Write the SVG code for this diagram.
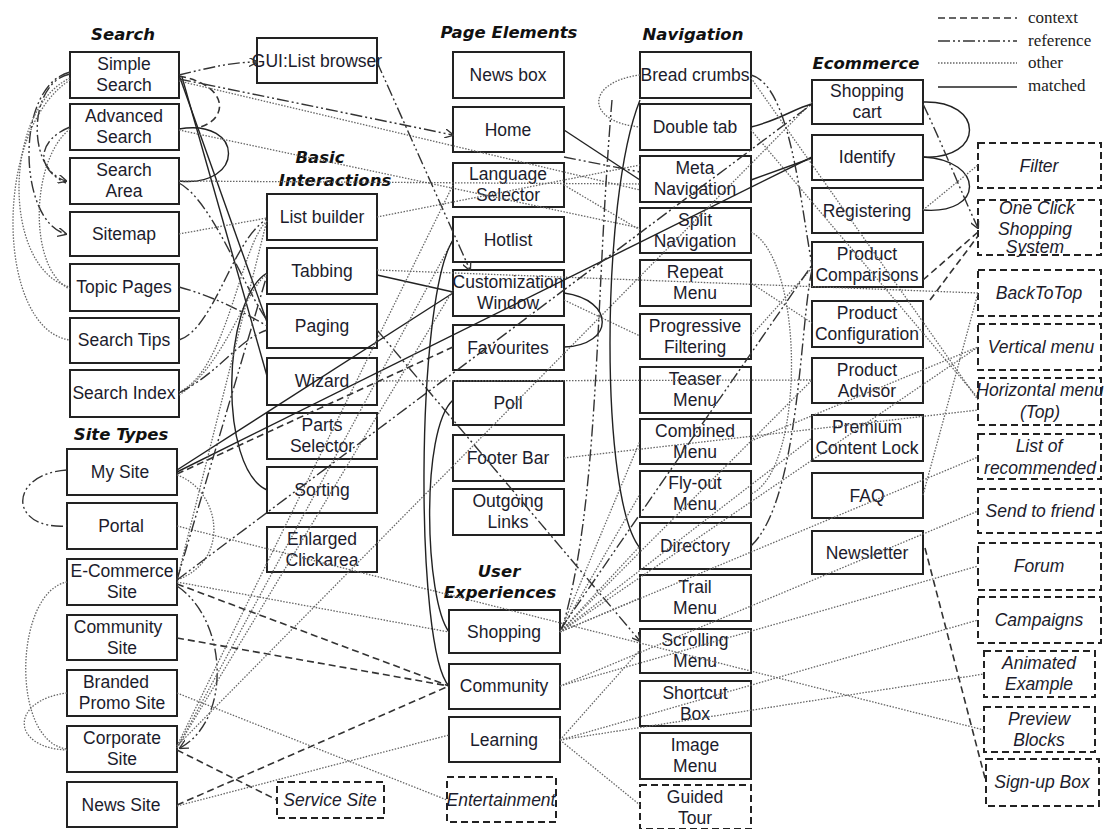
<svg xmlns="http://www.w3.org/2000/svg" width="1114" height="829" viewBox="0 0 1114 829">
<style>
.bx{fill:#fff;stroke:#222;stroke-width:2}
.dbx{fill:#fff;stroke:#222;stroke-width:2;stroke-dasharray:7 4}
.t{font-family:"Liberation Sans",Arial,sans-serif;font-size:17.5px;fill:#1c1c2c;text-anchor:middle}
.it{font-style:italic}
.h{font-family:"DejaVu Sans",Verdana,sans-serif;font-weight:bold;font-style:italic;font-size:16.5px;fill:#111;text-anchor:middle}
.lg{font-family:"Liberation Serif","Times New Roman",serif;font-size:17px;fill:#222}
.ctx{fill:none;stroke:#333;stroke-width:1.6;stroke-dasharray:7 4}
.ref{fill:none;stroke:#333;stroke-width:1.4;stroke-dasharray:12 3 2 3 2 3}
.oth{fill:none;stroke:#666;stroke-width:1.3;stroke-dasharray:1.5 1.5}
.mat{fill:none;stroke:#222;stroke-width:1.4}
</style>
<defs>
<marker id="ah" viewBox="0 0 10 10" refX="9" refY="5" markerWidth="9" markerHeight="9" markerUnits="userSpaceOnUse" orient="auto">
<path d="M0,0 L10,5 L0,10" fill="none" stroke="#333" stroke-width="1.5"/>
</marker>
</defs>
<rect width="1114" height="829" fill="#fff"/>

<!-- group titles -->
<g id="titles">
<text class="h" x="123" y="40">Search</text>
<text class="h" x="320" y="163">Basic</text>
<text class="h" x="335" y="186">Interactions</text>
<text class="h" x="509" y="38">Page Elements</text>
<text class="h" x="693" y="40">Navigation</text>
<text class="h" x="866" y="69">Ecommerce</text>
<text class="h" x="121" y="440">Site Types</text>
<text class="h" x="499" y="577">User</text>
<text class="h" x="500" y="598">Experiences</text>
</g>

<!-- legend -->
<g id="legend">
<line class="ctx" x1="938" y1="18" x2="1017" y2="18"/>
<line class="ref" x1="938" y1="41" x2="1017" y2="41"/>
<line class="oth" x1="938" y1="63" x2="1017" y2="63"/>
<line class="mat" x1="938" y1="87" x2="1017" y2="87"/>
<text class="lg" x="1028" y="23">context</text>
<text class="lg" x="1028" y="46">reference</text>
<text class="lg" x="1028" y="68">other</text>
<text class="lg" x="1028" y="91">matched</text>
</g>

<!-- Search -->
<g id="simple-search"><rect class="bx" x="70" y="52" width="109" height="46"/><text class="t" x="124" y="70">Simple</text><text class="t" x="124" y="91">Search</text></g>
<g id="advanced-search"><rect class="bx" x="70" y="104" width="109" height="46"/><text class="t" x="124" y="122">Advanced</text><text class="t" x="124" y="143">Search</text></g>
<g id="search-area"><rect class="bx" x="70" y="158" width="109" height="46"/><text class="t" x="124" y="176">Search</text><text class="t" x="124" y="197">Area</text></g>
<g id="sitemap"><rect class="bx" x="70" y="212" width="109" height="44"/><text class="t" x="124" y="240">Sitemap</text></g>
<g id="topic-pages"><rect class="bx" x="70" y="264" width="109" height="47"/><text class="t" x="124" y="293">Topic Pages</text></g>
<g id="search-tips"><rect class="bx" x="70" y="318" width="109" height="45"/><text class="t" x="124" y="346">Search Tips</text></g>
<g id="search-index"><rect class="bx" x="70" y="370" width="109" height="47"/><text class="t" x="124" y="399">Search Index</text></g>

<!-- Site Types -->
<g id="my-site"><rect class="bx" x="67" y="449" width="110" height="46"/><text class="t" x="120" y="478">My Site</text></g>
<g id="portal"><rect class="bx" x="67" y="503" width="110" height="46"/><text class="t" x="121" y="532">Portal</text></g>
<g id="ecommerce-site"><rect class="bx" x="67" y="559" width="110" height="46"/><text class="t" x="122" y="577">E-Commerce</text><text class="t" x="122" y="598">Site</text></g>
<g id="community-site"><rect class="bx" x="67" y="615" width="110" height="45"/><text class="t" x="118" y="633">Community</text><text class="t" x="122" y="654">Site</text></g>
<g id="branded-promo-site"><rect class="bx" x="67" y="670" width="110" height="46"/><text class="t" x="116" y="688">Branded</text><text class="t" x="122" y="709">Promo Site</text></g>
<g id="corporate-site"><rect class="bx" x="67" y="726" width="110" height="46"/><text class="t" x="122" y="744">Corporate</text><text class="t" x="122" y="765">Site</text></g>
<g id="news-site"><rect class="bx" x="67" y="782" width="110" height="45"/><text class="t" x="121" y="811">News Site</text></g>

<!-- GUI -->
<g id="gui-list-browser"><rect class="bx" x="257" y="38" width="120" height="45"/><text class="t" x="317" y="67">GUI:List browser</text></g>

<!-- Basic Interactions -->
<g id="list-builder"><rect class="bx" x="267" y="194" width="110" height="46"/><text class="t" x="322" y="223">List builder</text></g>
<g id="tabbing"><rect class="bx" x="267" y="248" width="110" height="46"/><text class="t" x="322" y="277">Tabbing</text></g>
<g id="paging"><rect class="bx" x="267" y="304" width="110" height="44"/><text class="t" x="322" y="332">Paging</text></g>
<g id="wizard"><rect class="bx" x="267" y="358" width="110" height="47"/><text class="t" x="322" y="387">Wizard</text></g>
<g id="parts-selector"><rect class="bx" x="267" y="413" width="110" height="46"/><text class="t" x="322" y="431">Parts</text><text class="t" x="322" y="452">Selector</text></g>
<g id="sorting"><rect class="bx" x="267" y="467" width="110" height="46"/><text class="t" x="322" y="496">Sorting</text></g>
<g id="enlarged-clickarea"><rect class="bx" x="267" y="527" width="110" height="45"/><text class="t" x="322" y="545">Enlarged</text><text class="t" x="322" y="566">Clickarea</text></g>
<g id="service-site"><rect class="dbx" x="277" y="782" width="107" height="36"/><text class="t it" x="330" y="806">Service Site</text></g>

<!-- Page Elements -->
<g id="news-box"><rect class="bx" x="453" y="52" width="111" height="46"/><text class="t" x="508" y="81">News box</text></g>
<g id="home"><rect class="bx" x="453" y="107" width="111" height="45"/><text class="t" x="508" y="136">Home</text></g>
<g id="language-selector"><rect class="bx" x="453" y="163" width="111" height="44"/><text class="t" x="508" y="180">Language</text><text class="t" x="508" y="201">Selector</text></g>
<g id="hotlist"><rect class="bx" x="453" y="217" width="111" height="45"/><text class="t" x="508" y="246">Hotlist</text></g>
<g id="customization-window"><rect class="bx" x="453" y="270" width="111" height="46"/><text class="t" x="508" y="288">Customization</text><text class="t" x="508" y="309">Window</text></g>
<g id="favourites"><rect class="bx" x="453" y="325" width="111" height="45"/><text class="t" x="508" y="354">Favourites</text></g>
<g id="poll"><rect class="bx" x="453" y="381" width="111" height="44"/><text class="t" x="508" y="409">Poll</text></g>
<g id="footer-bar"><rect class="bx" x="453" y="435" width="111" height="46"/><text class="t" x="508" y="464">Footer Bar</text></g>
<g id="outgoing-links"><rect class="bx" x="453" y="489" width="111" height="46"/><text class="t" x="508" y="507">Outgoing</text><text class="t" x="508" y="528">Links</text></g>

<!-- User Experiences -->
<g id="shopping"><rect class="bx" x="449" y="610" width="111" height="43"/><text class="t" x="504" y="638">Shopping</text></g>
<g id="community"><rect class="bx" x="449" y="664" width="111" height="45"/><text class="t" x="504" y="692">Community</text></g>
<g id="learning"><rect class="bx" x="449" y="717" width="111" height="45"/><text class="t" x="504" y="746">Learning</text></g>
<g id="entertainment"><rect class="dbx" x="447" y="777" width="109" height="45"/><text class="t it" x="501" y="806">Entertainment</text></g>

<!-- Navigation -->
<g id="bread-crumbs"><rect class="bx" x="640" y="52" width="111" height="46"/><text class="t" x="695" y="81">Bread crumbs</text></g>
<g id="double-tab"><rect class="bx" x="640" y="104" width="111" height="46"/><text class="t" x="695" y="133">Double tab</text></g>
<g id="meta-navigation"><rect class="bx" x="640" y="156" width="111" height="46"/><text class="t" x="695" y="174">Meta</text><text class="t" x="695" y="195">Navigation</text></g>
<g id="split-navigation"><rect class="bx" x="640" y="208" width="111" height="45"/><text class="t" x="695" y="226">Split</text><text class="t" x="695" y="247">Navigation</text></g>
<g id="repeat-menu"><rect class="bx" x="640" y="260" width="111" height="46"/><text class="t" x="695" y="278">Repeat</text><text class="t" x="695" y="299">Menu</text></g>
<g id="progressive-filtering"><rect class="bx" x="640" y="314" width="111" height="45"/><text class="t" x="695" y="332">Progressive</text><text class="t" x="695" y="353">Filtering</text></g>
<g id="teaser-menu"><rect class="bx" x="640" y="367" width="111" height="46"/><text class="t" x="695" y="385">Teaser</text><text class="t" x="695" y="406">Menu</text></g>
<g id="combined-menu"><rect class="bx" x="640" y="419" width="111" height="45"/><text class="t" x="695" y="437">Combined</text><text class="t" x="695" y="458">Menu</text></g>
<g id="fly-out-menu"><rect class="bx" x="640" y="471" width="111" height="46"/><text class="t" x="695" y="489">Fly-out</text><text class="t" x="695" y="510">Menu</text></g>
<g id="directory"><rect class="bx" x="640" y="523" width="111" height="46"/><text class="t" x="695" y="552">Directory</text></g>
<g id="trail-menu"><rect class="bx" x="640" y="575" width="111" height="46"/><text class="t" x="695" y="593">Trail</text><text class="t" x="695" y="614">Menu</text></g>
<g id="scrolling-menu"><rect class="bx" x="640" y="629" width="111" height="44"/><text class="t" x="695" y="646">Scrolling</text><text class="t" x="695" y="667">Menu</text></g>
<g id="shortcut-box"><rect class="bx" x="640" y="681" width="111" height="45"/><text class="t" x="695" y="699">Shortcut</text><text class="t" x="695" y="720">Box</text></g>
<g id="image-menu"><rect class="bx" x="640" y="733" width="111" height="46"/><text class="t" x="695" y="751">Image</text><text class="t" x="695" y="772">Menu</text></g>
<g id="guided-tour"><rect class="dbx" x="640" y="785" width="111" height="44"/><text class="t" x="695" y="803">Guided</text><text class="t" x="695" y="824">Tour</text></g>

<!-- Ecommerce -->
<g id="shopping-cart"><rect class="bx" x="812" y="80" width="111" height="44"/><text class="t" x="867" y="97">Shopping</text><text class="t" x="867" y="118">cart</text></g>
<g id="identify"><rect class="bx" x="812" y="135" width="111" height="45"/><text class="t" x="867" y="163">Identify</text></g>
<g id="registering"><rect class="bx" x="812" y="188" width="111" height="45"/><text class="t" x="867" y="217">Registering</text></g>
<g id="product-comparisons"><rect class="bx" x="812" y="242" width="111" height="45"/><text class="t" x="867" y="260">Product</text><text class="t" x="867" y="281">Comparisons</text></g>
<g id="product-configuration"><rect class="bx" x="812" y="301" width="111" height="46"/><text class="t" x="867" y="319">Product</text><text class="t" x="867" y="340">Configuration</text></g>
<g id="product-advisor"><rect class="bx" x="812" y="358" width="111" height="45"/><text class="t" x="867" y="376">Product</text><text class="t" x="867" y="397">Advisor</text></g>
<g id="premium-content-lock"><rect class="bx" x="812" y="415" width="111" height="46"/><text class="t" x="867" y="433">Premium</text><text class="t" x="867" y="454">Content Lock</text></g>
<g id="faq"><rect class="bx" x="812" y="473" width="111" height="45"/><text class="t" x="867" y="502">FAQ</text></g>
<g id="newsletter"><rect class="bx" x="812" y="531" width="111" height="43"/><text class="t" x="867" y="559">Newsletter</text></g>

<!-- candidate patterns -->
<g id="filter"><rect class="dbx" x="978" y="143" width="123" height="45"/><text class="t it" x="1039" y="172">Filter</text></g>
<g id="one-click-shopping-system"><rect class="dbx" x="978" y="200" width="123" height="55"/><text class="t it" x="1037" y="214">One Click</text><text class="t it" x="1035" y="235">Shopping</text><text class="t it" x="1035" y="253">System</text></g>
<g id="back-to-top"><rect class="dbx" x="978" y="270" width="123" height="46"/><text class="t it" x="1039" y="299">BackToTop</text></g>
<g id="vertical-menu"><rect class="dbx" x="978" y="324" width="123" height="46"/><text class="t it" x="1041" y="353">Vertical menu</text></g>
<g id="horizontal-menu-top"><rect class="dbx" x="978" y="378" width="123" height="47"/><text class="t it" x="1040" y="396">Horizontal menu</text><text class="t it" x="1040" y="418">(Top)</text></g>
<g id="list-of-recommended"><rect class="dbx" x="978" y="434" width="123" height="45"/><text class="t it" x="1039" y="452">List of</text><text class="t it" x="1040" y="474">recommended</text></g>
<g id="send-to-friend"><rect class="dbx" x="978" y="489" width="123" height="44"/><text class="t it" x="1040" y="517">Send to friend</text></g>
<g id="forum"><rect class="dbx" x="978" y="543" width="123" height="47"/><text class="t it" x="1039" y="572">Forum</text></g>
<g id="campaigns"><rect class="dbx" x="978" y="597" width="123" height="46"/><text class="t it" x="1039" y="626">Campaigns</text></g>
<g id="animated-example"><rect class="dbx" x="984" y="651" width="111" height="46"/><text class="t it" x="1039" y="669">Animated</text><text class="t it" x="1039" y="690">Example</text></g>
<g id="preview-blocks"><rect class="dbx" x="984" y="707" width="111" height="45"/><text class="t it" x="1039" y="725">Preview</text><text class="t it" x="1039" y="746">Blocks</text></g>
<g id="sign-up-box"><rect class="dbx" x="986" y="759" width="113" height="47"/><text class="t it" x="1042" y="788">Sign-up Box</text></g>

<!-- relations -->
<g id="connectors">
<!-- Search: left-hand loops -->
<path class="ref" marker-end="url(#ah)" d="M70,74 C28,82 26,170 66,181"/>
<path class="ref" marker-end="url(#ah)" d="M70,72 C14,86 18,222 66,234"/>
<path class="ref" d="M70,127 C38,140 34,168 66,183"/>
<path class="oth" d="M70,78 C2,110 2,270 70,287"/>
<path class="oth" d="M70,80 C-8,130 -4,330 70,340"/>
<path class="oth" d="M70,129 C30,160 28,270 70,289"/>
<!-- Search: right side -->
<path class="mat" d="M179,129 C245,118 245,188 179,181"/>
<path class="ctx" d="M179,76 C232,86 228,122 196,128"/>
<path class="ref" marker-end="url(#ah)" d="M179,75 C208,68 232,62 257,62"/>
<path class="mat" d="M179,75 L267,322"/>
<path class="mat" d="M182,77 L267,376"/>
<path class="ref" marker-end="url(#ah)" d="M179,79 L453,135"/>
<path class="ref" d="M564,157 L640,172"/>
<path class="oth" d="M179,81 L640,190"/>
<path class="oth" d="M179,130 L640,228"/>
<path class="oth" d="M179,181 L640,184"/>
<path class="ref" d="M179,183 C212,200 245,290 267,320"/>
<path class="oth" d="M179,234 L267,218"/>
<path class="ref" d="M179,287 C212,296 240,310 267,326"/>
<path class="ref" d="M179,340 C215,328 232,240 267,219"/>
<path class="oth" d="M179,392 C228,370 240,245 267,221"/>
<path class="oth" d="M179,395 C225,365 245,290 267,274"/>
<path class="ref" d="M179,393 C220,372 238,340 267,330"/>
<!-- Basic interactions -->
<path class="mat" d="M267,273 C222,300 218,468 267,490"/>
<path class="ref" marker-end="url(#ah)" d="M377,62 L470,270"/>
<path class="oth" d="M377,217 L640,165"/>
<path class="oth" d="M377,270 L978,293"/>
<path class="mat" d="M377,275 L453,292"/>
<path class="oth" d="M377,381 L812,380"/>
<path class="ref" marker-end="url(#ah)" d="M377,330 L640,641"/>
<!-- Site types -->
<path class="ref" d="M67,470 C8,474 8,530 67,526"/>
<path class="mat" d="M177,472 L812,157"/>
<path class="mat" d="M177,470 L453,293"/>
<path class="ctx" d="M177,474 L453,347"/>
<path class="oth" d="M177,475 C220,490 232,560 177,580"/>
<path class="oth" d="M177,526 L984,730"/>
<path class="oth" d="M177,582 L449,632"/>
<path class="ctx" d="M177,584 L449,686"/>
<path class="ref" marker-end="url(#ah)" d="M177,586 C228,620 232,720 180,748"/>
<path class="ctx" d="M177,638 L449,686"/>
<path class="oth" d="M67,582 C14,592 10,742 67,749"/>
<path class="oth" d="M67,693 C10,700 10,748 67,750"/>
<path class="oth" d="M177,693 L447,800"/>
<path class="ctx" d="M177,750 L277,800"/>
<path class="ctx" d="M177,805 L449,686"/>
<path class="oth" d="M177,806 L449,735"/>
<path class="oth" d="M177,746 L453,185"/>
<path class="oth" d="M177,748 L453,240"/>
<path class="oth" d="M177,748 L453,290"/>
<path class="oth" d="M177,580 L267,220"/>
<path class="ref" d="M177,580 L267,275"/>
<path class="oth" d="M177,746 L812,102"/>
<path class="ref" d="M177,580 L812,104"/>
<!-- Page elements -->
<path class="mat" d="M564,130 L640,180"/>
<path class="mat" d="M564,293 C615,300 615,345 564,347"/>
<path class="mat" d="M453,240 C415,300 415,650 449,686"/>
<path class="mat" d="M453,400 C420,430 425,600 449,632"/>
<path class="oth" d="M564,185 L640,230"/>
<path class="oth" d="M564,300 L640,336"/>
<path class="oth" d="M564,458 L978,410"/>
<!-- Navigation -->
<path class="oth" d="M640,75 C585,82 585,122 640,127"/>
<path class="mat" d="M751,127 C780,120 795,108 812,104"/>
<path class="mat" d="M751,180 L812,158"/>
<path class="mat" d="M640,100 C600,200 600,500 640,548"/>
<path class="ref" d="M612,100 C595,300 600,500 562,629"/>
<path class="ref" d="M751,75 C790,85 800,200 812,265"/>
<path class="oth" d="M751,78 L978,400"/>
<path class="oth" d="M751,130 L978,398"/>
<path class="oth" d="M751,232 C805,260 805,470 751,494"/>
<path class="ref" d="M751,546 C800,500 800,320 812,270"/>
<path class="oth" d="M751,441 L978,347"/>
<path class="oth" d="M751,283 L812,323"/>
<path class="oth" d="M751,336 L812,268"/>
<!-- User experiences -->
<path class="oth" d="M560,632 L640,546"/>
<path class="oth" d="M560,632 L640,494"/>
<path class="oth" d="M560,632 L640,441"/>
<path class="oth" d="M560,632 L640,598"/>
<path class="oth" d="M560,632 L812,438"/>
<path class="oth" d="M560,632 L812,380"/>
<path class="oth" d="M560,632 L978,457"/>
<path class="oth" d="M560,632 L978,347"/>
<path class="ref" d="M560,630 L812,265"/>
<path class="oth" d="M560,686 L978,566"/>
<path class="oth" d="M560,686 L978,511"/>
<path class="oth" d="M560,740 L978,620"/>
<path class="oth" d="M560,740 L984,674"/>
<path class="oth" d="M560,740 L640,805"/>
<path class="oth" d="M560,740 L640,650"/>
<!-- Ecommerce -->
<path class="mat" d="M923,102 C985,100 985,160 923,157"/>
<path class="mat" d="M923,157 C985,160 985,215 923,210"/>
<path class="ref" marker-end="url(#ah)" d="M923,104 C945,150 960,190 978,228"/>
<path class="ctx" d="M923,280 L978,232"/>
<path class="ctx" d="M930,300 L978,236"/>
<path class="oth" d="M923,210 L978,165"/>
<path class="ctx" d="M925,548 L986,782"/>
<path class="oth" d="M923,495 L978,293"/>
</g>
</svg>
